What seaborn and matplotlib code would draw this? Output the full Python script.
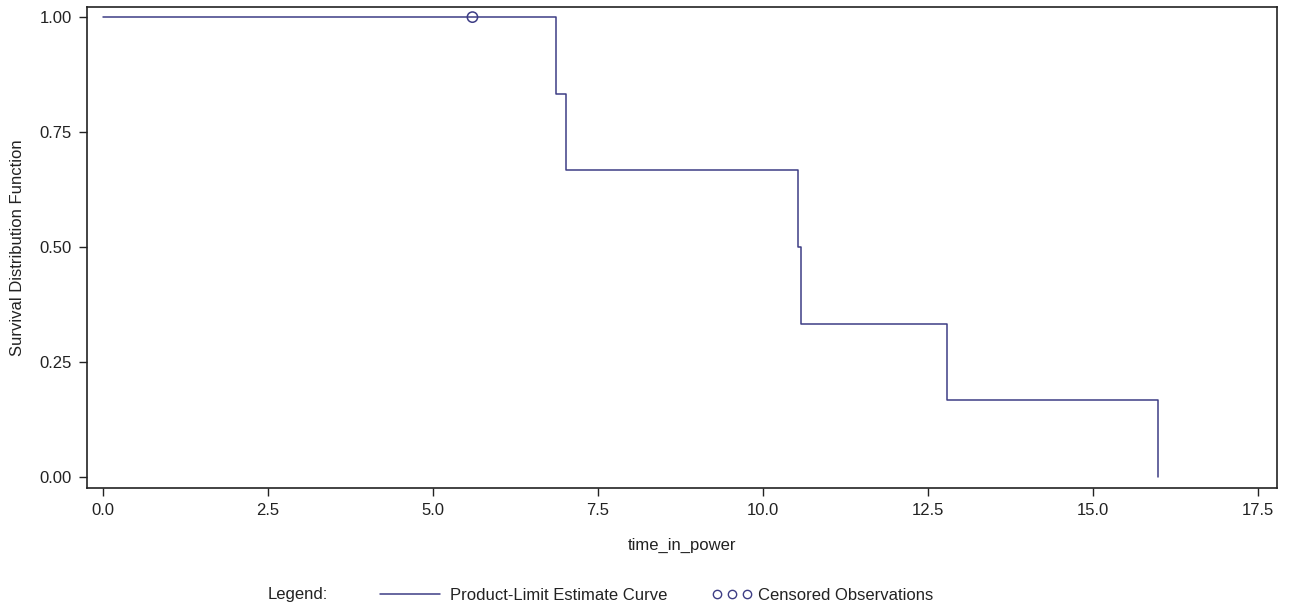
import matplotlib
matplotlib.use("Agg")
import matplotlib.pyplot as plt
from matplotlib.lines import Line2D
import seaborn as sns
import pandas as pd

# Data (Kaplan-Meier product-limit estimate)
event_times = [0.0, 6.86, 7.02, 10.53, 10.58, 12.79, 15.98]
survival = [1.0, 0.8333, 0.6667, 0.5, 0.3333, 0.1667, 0.0]
censored_times = [5.6]
censored_surv = [1.0]
x_ticks = [0.0, 2.5, 5.0, 7.5, 10.0, 12.5, 15.0, 17.5]
y_ticks = [0.0, 0.25, 0.5, 0.75, 1.0]

sns.set_theme(style="white")
plt.rcParams["font.family"] = ["Liberation Sans", "DejaVu Sans"]

W, H = 1292, 610
fig = plt.figure(figsize=(W / 100, H / 100), dpi=100)
ax = fig.add_axes([87 / W, 1 - 488 / H, (1277 - 87) / W, (488 - 7) / H])

LINE = "#3d3d85"
TXT = "#222222"

df = pd.DataFrame({"time_in_power": event_times, "surv": survival})
sns.lineplot(data=df, x="time_in_power", y="surv", drawstyle="steps-post",
             color=LINE, linewidth=1.1, ax=ax, estimator=None, sort=False)
cdf = pd.DataFrame({"t": censored_times, "s": censored_surv})
sns.scatterplot(data=cdf, x="t", y="s", marker="o", s=55, facecolor="none",
                edgecolor=LINE, linewidth=1.1, ax=ax, zorder=3)

ax.set_xlim(-0.24, 17.79)
ax.set_ylim(-0.024, 1.022)
ax.set_xticks(x_ticks)
ax.set_xticklabels([f"{v:.1f}" for v in x_ticks])
ax.set_yticks(y_ticks)
ax.set_yticklabels([f"{v:.2f}" for v in y_ticks])
ax.tick_params(axis="both", direction="out", length=6, width=1, color="#222222",
               labelsize=12, labelcolor=TXT, bottom=True, left=True, pad=5)
for sp in ax.spines.values():
    sp.set_color("#222222")
    sp.set_linewidth(1.2)
ax.set_xlabel("time_in_power", fontsize=12, color=TXT, labelpad=14)
ax.set_ylabel("Survival Distribution Function", fontsize=12, color=TXT, labelpad=10)
ax.grid(False)

# Custom legend row at bottom
yl = 1 - 595 / H
fig.text(268 / W, yl, "Legend:", fontsize=12, color=TXT, va="center", ha="left")
fig.add_artist(Line2D([380 / W, 440 / W], [yl + 0.002, yl + 0.002],
                      transform=fig.transFigure, color=LINE, linewidth=1.1))
fig.text(450 / W, yl, "Product-Limit Estimate Curve", fontsize=12, color=TXT,
         va="center", ha="left")
fig.add_artist(Line2D([717 / W, 732 / W, 747 / W], [yl + 0.002] * 3,
                      transform=fig.transFigure, linestyle="none", marker="o",
                      markersize=6, markerfacecolor="none", markeredgecolor=LINE,
                      markeredgewidth=1.0))
fig.text(758 / W, yl, "Censored Observations", fontsize=12, color=TXT,
         va="center", ha="left")

fig.savefig("out.png", dpi=100, facecolor="white")
